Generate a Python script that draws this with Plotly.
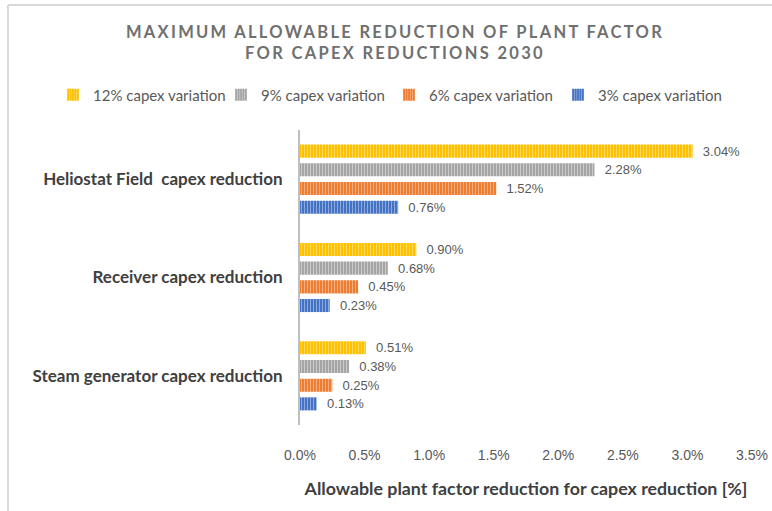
import plotly.graph_objects as go

categories = ["Heliostat Field  capex reduction", "Receiver capex reduction", "Steam generator capex reduction"]
series_names = ["12% capex variation", "9% capex variation", "6% capex variation", "3% capex variation"]
v12 = [3.04, 0.90, 0.51]
v9 = [2.28, 0.68, 0.38]
v6 = [1.52, 0.45, 0.25]
v3 = [0.76, 0.23, 0.13]
x_ticks = [0.0, 0.5, 1.0, 1.5, 2.0, 2.5, 3.0, 3.5]

colors = ["#FFC000", "#A5A5A5", "#ED7D31", "#4472C4"]
stripe = ["#FFE07A", "#D2D2D2", "#F6BB94", "#9FB7E0"]
values = [v12, v9, v6, v3]

W, H = 772, 511
L, R, T, B = 300, 20, 130, 86
pw, ph = W - L - R, H - T - B


def px(x):
    return (x - L) / pw


def py(y):
    return (H - B - y) / ph


legend_names = ["legend", "legend2", "legend3", "legend4"]
legend_x = [77, 245, 413, 582]

fig = go.Figure()
for name, vals, c, s, lg in zip(series_names, values, colors, stripe, legend_names):
    fig.add_trace(go.Bar(
        y=categories, x=vals, name=name, orientation="h", legend=lg,
        marker=dict(color=c, line=dict(width=0),
                    pattern=dict(shape="|", size=3, solidity=0.3, fgcolor=s, fgopacity=0.9)),
        text=[f"\u00a0\u00a0{v:.2f}%" for v in vals], textposition="outside",
        constraintext="none",
        textfont=dict(family="Arial, Liberation Sans", size=13, color="#595959"),
        cliponaxis=False,
    ))

legend_common = dict(orientation="h", yanchor="middle", y=py(95), xanchor="left",
                     font=dict(family="Lato", size=15, color="#595959"),
                     itemwidth=30, bgcolor="rgba(0,0,0,0)")
legends = {}
for lg, lx in zip(legend_names, legend_x):
    legends[lg] = dict(legend_common, x=px(lx - 24))

title_style = "letter-spacing:2.3px"
title_text = (f'<span style="{title_style}">MAXIMUM ALLOWABLE REDUCTION OF PLANT FACTOR</span><br>'
              f'<span style="{title_style}">FOR CAPEX REDUCTIONS 2030</span>')

fig.update_layout(
    width=W, height=H,
    margin=dict(l=L, r=R, t=T, b=B, autoexpand=False),
    paper_bgcolor="white", plot_bgcolor="white",
    barmode="group", bargap=0.24, bargroupgap=0.3,
    title=dict(text=title_text,
               x=395 / W, xanchor="center", y=1 - 38 / H, yanchor="middle",
               font=dict(family="Lato", size=16.5, color="#707070", weight=700)),
    showlegend=True,
    xaxis=dict(range=[0, 3.5], tickvals=x_ticks, ticktext=[f"{t:.1f}%" for t in x_ticks],
               showgrid=False, zeroline=False, showline=False, automargin=False,
               ticklabelstandoff=20,
               tickfont=dict(family="Arial, Liberation Sans", size=14, color="#595959"),
               title=dict(text="Allowable plant factor reduction for capex reduction [%]",
                          font=dict(family="Lato", size=17.8, color="#404040", weight="bold"),
                          standoff=20),
               fixedrange=True),
    yaxis=dict(autorange="reversed", showgrid=False, zeroline=False, automargin=False,
               showline=True, linecolor="#BFBFBF", linewidth=2,
               ticklabelstandoff=12,
               tickfont=dict(family="Lato", size=17, color="#404040", weight="bold")),
    shapes=[
        dict(type="line", xref="paper", yref="paper", x0=px(8), x1=px(772), y0=py(5), y1=py(5),
             line=dict(color="#D9D9D9", width=2)),
        dict(type="line", xref="paper", yref="paper", x0=px(8), x1=px(8), y0=py(5), y1=py(511),
             line=dict(color="#D9D9D9", width=2)),
    ],
    **legends,
)

fig.write_html("out.html")
